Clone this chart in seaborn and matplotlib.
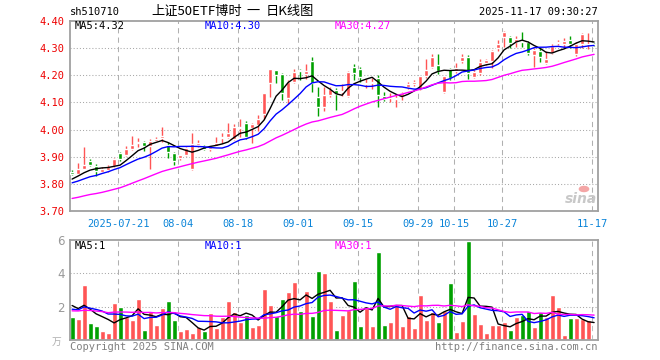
import numpy as np
import pandas as pd
import seaborn as sns
import matplotlib.pyplot as plt

# daily OHLC + volume, 2025-07-09 .. 2025-11-17
open_ = [3.844, 3.836, 3.855, 3.884, 3.865, 3.844, 3.850, 3.865, 3.913, 3.906,
         3.928, 3.951, 3.955, 3.938, 3.958, 3.970, 3.944, 3.913, 3.894, 3.905,
         3.853, 3.944, 3.938, 3.927, 3.941, 3.968, 3.972, 3.965, 4.006, 4.026,
         4.005, 4.017, 4.057, 4.172, 4.218, 4.206, 4.115, 4.176, 4.219, 4.206,
         4.252, 4.121, 4.084, 4.129, 4.147, 4.139, 4.122, 4.230, 4.223, 4.167,
         4.171, 4.190, 4.125, 4.115, 4.112, 4.122, 4.156, 4.169, 4.149, 4.196,
         4.230, 4.239, 4.137, 4.223, 4.214, 4.254, 4.269, 4.193, 4.207, 4.244,
         4.254, 4.302, 4.341, 4.340, 4.321, 4.327, 4.321, 4.275, 4.290, 4.244,
         4.281, 4.320, 4.316, 4.331, 4.278, 4.316, 4.314, 4.316]
high = [3.851, 3.878, 3.936, 3.893, 3.875, 3.863, 3.870, 3.896, 3.918, 3.940,
        3.978, 3.970, 3.959, 3.965, 3.971, 4.010, 3.953, 3.918, 3.908, 3.934,
        3.988, 3.960, 3.945, 3.940, 3.972, 3.989, 4.026, 4.021, 4.038, 4.033,
        4.023, 4.054, 4.135, 4.224, 4.221, 4.209, 4.184, 4.224, 4.223, 4.240,
        4.267, 4.157, 4.157, 4.157, 4.153, 4.167, 4.214, 4.242, 4.230, 4.186,
        4.190, 4.202, 4.137, 4.134, 4.132, 4.137, 4.177, 4.181, 4.198, 4.260,
        4.279, 4.279, 4.199, 4.226, 4.245, 4.279, 4.275, 4.220, 4.259, 4.259,
        4.294, 4.331, 4.364, 4.346, 4.346, 4.358, 4.325, 4.300, 4.300, 4.288,
        4.316, 4.331, 4.337, 4.343, 4.321, 4.356, 4.356, 4.319]
low = [3.831, 3.834, 3.853, 3.864, 3.830, 3.840, 3.845, 3.863, 3.886, 3.903,
       3.925, 3.934, 3.921, 3.856, 3.955, 3.953, 3.895, 3.871, 3.888, 3.903,
       3.850, 3.935, 3.925, 3.922, 3.938, 3.952, 3.968, 3.962, 3.974, 3.965,
       3.950, 3.993, 4.038, 4.121, 4.170, 4.109, 4.096, 4.170, 4.184, 4.188,
       4.139, 4.050, 4.070, 4.120, 4.073, 4.122, 4.120, 4.183, 4.177, 4.153,
       4.149, 4.085, 4.106, 4.100, 4.082, 4.110, 4.149, 4.159, 4.144, 4.190,
       4.226, 4.206, 4.134, 4.183, 4.207, 4.244, 4.185, 4.190, 4.201, 4.238,
       4.226, 4.288, 4.306, 4.300, 4.306, 4.306, 4.275, 4.232, 4.250, 4.242,
       4.278, 4.312, 4.300, 4.300, 4.272, 4.300, 4.296, 4.309]
close = [3.838, 3.856, 3.871, 3.868, 3.846, 3.853, 3.863, 3.893, 3.890, 3.930,
         3.943, 3.956, 3.940, 3.959, 3.966, 3.978, 3.918, 3.884, 3.905, 3.931,
         3.946, 3.950, 3.928, 3.934, 3.950, 3.973, 3.987, 4.011, 4.011, 3.972,
         4.021, 4.039, 4.133, 4.222, 4.200, 4.135, 4.176, 4.212, 4.216, 4.216,
         4.170, 4.082, 4.127, 4.148, 4.132, 4.143, 4.212, 4.210, 4.193, 4.171,
         4.177, 4.126, 4.113, 4.118, 4.116, 4.134, 4.169, 4.174, 4.196, 4.220,
         4.267, 4.214, 4.196, 4.190, 4.228, 4.267, 4.207, 4.211, 4.250, 4.257,
         4.288, 4.315, 4.358, 4.319, 4.333, 4.322, 4.281, 4.294, 4.267, 4.259,
         4.309, 4.323, 4.328, 4.316, 4.316, 4.353, 4.316, 4.312]
volume = [1.40, 1.28, 3.29, 1.03, 0.85, 0.57, 0.43, 2.25, 2.01, 1.38,
          1.22, 2.49, 0.61, 1.76, 0.91, 1.95, 2.37, 1.22, 0.55, 0.67,
          0.43, 0.77, 0.55, 1.64, 0.73, 1.38, 2.37, 1.70, 1.10, 1.52,
          0.79, 0.90, 3.04, 2.13, 1.46, 2.49, 2.86, 3.47, 1.76, 2.92,
          1.46, 4.14, 4.02, 2.37, 0.61, 1.52, 1.83, 3.53, 0.85, 1.95,
          0.85, 5.29, 0.91, 1.10, 2.19, 0.85, 1.46, 0.73, 2.68, 1.22,
          1.70, 1.10, 1.76, 3.41, 0.49, 1.16, 5.96, 1.58, 0.97, 0.43,
          0.91, 0.91, 1.10, 0.61, 1.40, 1.52, 1.76, 0.79, 1.70, 1.40,
          2.68, 2.01, 0.30, 1.34, 1.34, 1.28, 1.22, 0.06]

# the 29 sessions before the window, only needed to start the moving averages
pre_close = [3.73, 3.71, 3.72, 3.74, 3.72, 3.70, 3.72, 3.72, 3.69, 3.68,
             3.70, 3.69, 3.69, 3.70, 3.72, 3.73, 3.71, 3.74, 3.76, 3.78,
             3.79, 3.79, 3.79, 3.80, 3.78, 3.80, 3.81, 3.82, 3.82]
pre_vol = [1.5, 2.1, 1.3, 1.9, 1.6, 2.4, 1.2, 1.8, 1.5, 1.7,
           2.0, 1.4, 1.6, 1.9, 1.3, 2.2, 1.5, 1.8, 1.6, 1.7,
           1.7, 1.5, 1.8, 1.6, 1.55, 2.2, 2.3, 2.2, 2.25]

holidays = pd.date_range("2025-10-01", "2025-10-08")
tick_dates = ["2025-07-21", "2025-08-04", "2025-08-18", "2025-09-01", "2025-09-15",
              "2025-09-29", "2025-10-15", "2025-10-27", "2025-11-17"]
tick_text = ["2025-07-21", "08-04", "08-18", "09-01", "09-15", "09-29", "10-15", "10-27", "11-17"]
price_ma_text = ["MA5:4.32", "MA10:4.30", "MA30:4.27"]
vol_ma_text = ["MA5:1", "MA10:1", "MA30:1"]

RED, GREEN = "#ff5555", "#00a000"
MA_COLORS = {"MA5": "#000000", "MA10": "#0000ff", "MA30": "#ff00ff"}
GREY = "#a0a0a0"
CJK = ["Noto Sans CJK SC", "DejaVu Sans"]

days = pd.bdate_range("2025-07-09", "2025-11-17")
days = days[~days.isin(holidays)]
n = len(days)
x = np.arange(n)
o, h, l, c, v = map(np.array, (open_, high, low, close, volume))
up = c >= o
colors = np.where(up, RED, GREEN)

c_all = pd.Series(pre_close + close)
v_all = pd.Series(pre_vol + volume)
k = len(pre_close)
price_ma = pd.DataFrame({"x": x})
vol_ma = pd.DataFrame({"x": x})
for w in (5, 10, 30):
    price_ma[f"MA{w}"] = c_all.rolling(w).mean().values[k:]
    vol_ma[f"MA{w}"] = v_all.rolling(w).mean().values[k:]
price_long = price_ma.melt("x", var_name="ma", value_name="val")
vol_long = vol_ma.melt("x", var_name="ma", value_name="val")

sns.set_style("white")
plt.rcParams["font.family"] = ["DejaVu Sans Mono", "DejaVu Sans"]

W, H = 660, 360
fig = plt.figure(figsize=(W / 100, H / 100), dpi=100)


def box(x0, y0, x1, y1):
    return [x0 / W, 1 - y1 / H, (x1 - x0) / W, (y1 - y0) / H]


ax = fig.add_axes(box(70, 21, 598, 211))
axv = fig.add_axes(box(70, 240, 598, 340))

xpos = [days.get_loc(pd.Timestamp(d)) - 0.3 for d in tick_dates]
for a in (ax, axv):
    a.set_xlim(-0.35, n - 0.35)
    for xp in xpos:
        a.axvline(xp, color="#b0b0b0", lw=0.75, ls=(0, (5, 4)), zorder=0)
    for s in a.spines.values():
        s.set_color(GREY)
        s.set_linewidth(1.3)
        s.set_visible(True)

# price panel
ax.set_ylim(3.70, 4.40)
for yv in np.arange(3.8, 4.35, 0.1):
    ax.axhline(yv, color="#a8a8a8", lw=0.75, ls=(0, (1, 2)), zorder=0)
ax.vlines(x, l, h, colors=colors, lw=1, zorder=2)
body = np.maximum(np.abs(c - o), 0.003)
ax.bar(x, body, bottom=np.minimum(o, c), width=0.7, color=colors, zorder=3)
sns.lineplot(data=price_long, x="x", y="val", hue="ma", palette=MA_COLORS,
             lw=1, legend=False, ax=ax, zorder=4)
ax.set_yticks(np.round(np.arange(3.7, 4.41, 0.1), 2))
ax.set_yticklabels([f"{t:.2f}" for t in np.arange(3.7, 4.41, 0.1)],
                   color="#ee0000", fontsize=7.5)
ax.set_xticks(xpos)
ax.set_xticklabels(tick_text, color="#0a84d8", fontsize=7.5)
ax.tick_params(length=0, pad=4)
ax.tick_params(axis="x", pad=6)
ax.set_xlabel("")
ax.set_ylabel("")

# volume panel
axv.set_ylim(0, 6)
for yv in (2, 4):
    axv.axhline(yv, color="#a8a8a8", lw=0.75, ls=(0, (1, 2)), zorder=0)
axv.bar(x, v, width=0.82, color=colors, zorder=2)
sns.lineplot(data=vol_long, x="x", y="val", hue="ma", palette=MA_COLORS,
             lw=1, legend=False, ax=axv, zorder=4)
axv.set_yticks([2, 4, 6])
axv.set_yticklabels(["2", "4", "6"], color="#999999", fontsize=8.5, family="DejaVu Sans")
axv.set_xticks([])
axv.tick_params(length=0, pad=4)
axv.set_xlabel("")
axv.set_ylabel("")


def put(px, py, s, **kw):
    kw.setdefault("fontsize", 7.5)
    kw.setdefault("va", "center")
    fig.text(px / W, 1 - py / H, s, **kw)


# header
put(70, 12, "sh510710", color="black")
put(151, 11, "上证50ETF博时", fontsize=9.5, family=CJK, color="black")
put(253, 11, "一", fontsize=9.5, ha="center", family=CJK, color="black")
put(266, 11, "日K线图", fontsize=9.5, family=CJK, color="black")
put(598, 12, "2025-11-17 09:30:27", ha="right", color="black")

for px, s, col in zip((75, 205, 335), price_ma_text, MA_COLORS.values()):
    put(px, 26, s, color=col)
for px, s, col in zip((75, 205, 335), vol_ma_text, MA_COLORS.values()):
    put(px, 246, s, color=col)

# footer
put(57, 342, "万", fontsize=7, ha="center", color="#b0b0b0", family=CJK)
put(70, 347, "Copyright 2025 SINA.COM", color="#808080")
put(598, 347, "http://finance.sina.com.cn", ha="right", color="#808080")

# sina watermark
put(581, 199, "sina", fontsize=10, ha="center", style="italic", fontweight="bold",
    color="#c8c8c8", family="DejaVu Sans")
fig.add_artist(plt.Circle((584 / W, 1 - 189 / H), 0.007, transform=fig.transFigure,
                          color="#f4a6a6", zorder=5))

fig.savefig("out.png", dpi=100)
